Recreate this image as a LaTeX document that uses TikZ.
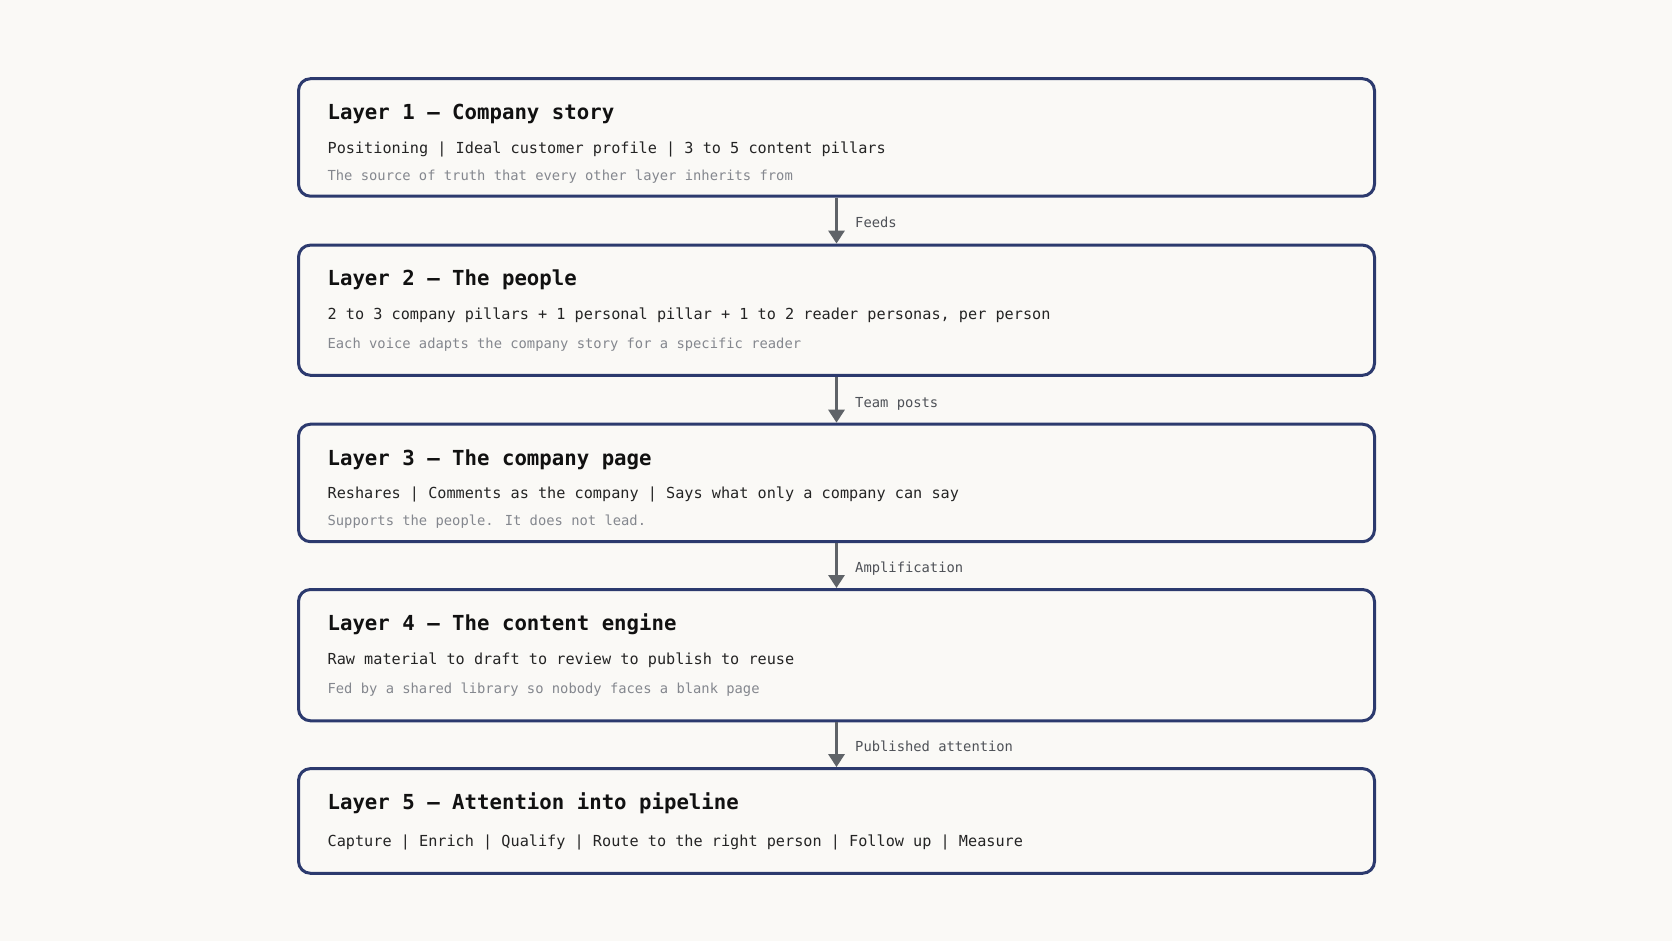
\documentclass[tikz,border=0pt]{standalone}
\usepackage{fontspec}
\usetikzlibrary{arrows.meta}
\newfontfamily\monof{DejaVu Sans Mono}
\definecolor{bgc}{HTML}{FAF9F6}
\definecolor{navy}{RGB}{44,58,110}
\definecolor{arrowc}{RGB}{95,99,104}
\definecolor{titlec}{HTML}{111111}
\definecolor{bodyc}{HTML}{242424}
\definecolor{notec}{HTML}{84878E}
\definecolor{labelc}{HTML}{4E5157}
\begin{document}
\begin{tikzpicture}[x=1pt,y=-1pt,
  layerbox/.style={draw=navy,line width=3pt,rounded corners=12pt,fill=bgc,
    rectangle,inner sep=0pt,anchor=north west,minimum width=1076pt},
  titletext/.style={anchor=base west,inner sep=0pt,text=titlec,
    font=\monof\bfseries\fontsize{20.7}{25}\selectfont},
  bodytext/.style={anchor=base west,inner sep=0pt,text=bodyc,
    font=\monof\fontsize{15.2}{18}\selectfont},
  notetext/.style={anchor=base west,inner sep=0pt,text=notec,
    font=\monof\fontsize{13.8}{16}\selectfont},
  arrowlabel/.style={anchor=base west,inner sep=0pt,text=labelc,
    font=\monof\fontsize{13.8}{16}\selectfont},
  flow/.style={draw=arrowc,line width=3pt,-{Triangle[width=16pt,length=13pt]}}]
\fill[bgc] (0,0) rectangle (1672,941);
\useasboundingbox (0,0) rectangle (1672,941);

\node[layerbox,minimum height=117.5pt] (b1) at (297,77.2) {};
\node[layerbox,minimum height=130.2pt] (b2) at (297,243.6) {};
\node[layerbox,minimum height=117.5pt] (b3) at (297,422.7) {};
\node[layerbox,minimum height=131.3pt] (b4) at (297,588) {};
\node[layerbox,minimum height=104.7pt] (b5) at (297,767.1) {};

\node[titletext] (t1) at (327.4,120) {Layer 1 — Company story};
\node[bodytext] (l1) at (327.4,153.5) {Positioning | Ideal customer profile | 3 to 5 content pillars};
\node[notetext] (n1) at (327.4,180.5) {The source of truth that every other layer inherits from};

\node[titletext] (t2) at (327.4,285) {Layer 2 — The people};
\node[bodytext] (l2) at (327.4,319.5) {2 to 3 company pillars + 1 personal pillar + 1 to 2 reader personas, per person};
\node[notetext] (n2) at (327.4,348.8) {Each voice adapts the company story for a specific reader};

\node[titletext] (t3) at (327.4,465.4) {Layer 3 — The company page};
\node[bodytext] (l3) at (327.4,498.1) {Reshares | Comments as the company | Says what only a company can say};
\node[notetext] (n3) at (327.4,525.9) {Supports the people. It does not lead.};

\node[titletext] (t4) at (327.4,630.7) {Layer 4 — The content engine};
\node[bodytext] (l4) at (327.4,664) {Raw material to draft to review to publish to reuse};
\node[notetext] (n4) at (327.4,693.8) {Fed by a shared library so nobody faces a blank page};

\node[titletext] (t5) at (327.4,809.9) {Layer 5 — Attention into pipeline};
\node[bodytext] (l5) at (327.4,846.3) {Capture | Enrich | Qualify | Route to the right person | Follow up | Measure};

\draw[flow] (b1.south) -- (b2.north);
\draw[flow] (b2.south) -- (b3.north);
\draw[flow] (b3.south) -- (b4.north);
\draw[flow] (b4.south) -- (b5.north);

\node[arrowlabel] (a1) at (855,227.3) {Feeds};
\node[arrowlabel] (a2) at (855,407.5) {Team posts};
\node[arrowlabel] (a3) at (855,572.5) {Amplification};
\node[arrowlabel] (a4) at (855,751.9) {Published attention};
\end{tikzpicture}
\end{document}
